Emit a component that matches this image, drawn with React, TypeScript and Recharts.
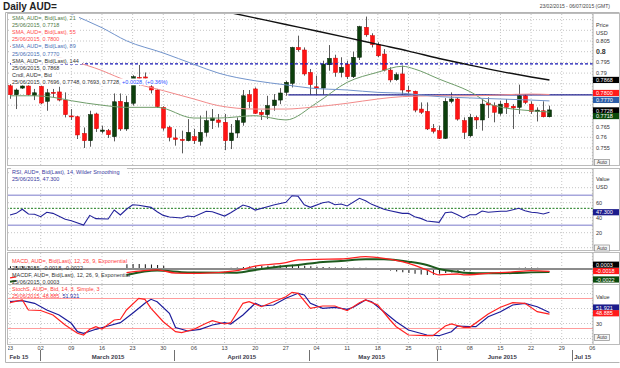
import React from "react";
import { Bar, CartesianGrid, ComposedChart, Line, ReferenceLine, XAxis, YAxis } from "recharts";

const FONT = '"Liberation Sans", Arial, sans-serif';

// trading-day index: 0 = Mon 23 Feb 2015 ... 88 = Thu 25 Jun 2015
const opens = [
  0.7841, 0.7799, 0.7830, 0.7840, 0.7796,
  0.7838, 0.7768, 0.7810, 0.7812, 0.7774,
  0.7700, 0.7696, 0.7618, 0.7584, 0.7709,
  0.7628, 0.7631, 0.7603, 0.7768, 0.7639,
  0.7759, 0.7880, 0.7882, 0.7836, 0.7821,
  0.7740, 0.7646, 0.7597, 0.7590, 0.7584,
  0.7603, 0.7581, 0.7623, 0.7678, 0.7681,
  0.7670, 0.7584, 0.7620, 0.7670, 0.7799,
  0.7826, 0.7717, 0.7706, 0.7748, 0.7774,
  0.7810, 0.7852, 0.8020, 0.8008, 0.7903,
  0.7836, 0.7830, 0.7939, 0.7970, 0.7903,
  0.7942, 0.7883, 0.7974, 0.8114, 0.8075,
  0.8033, 0.7989, 0.7914, 0.7869, 0.7896,
  0.7820, 0.7815, 0.7732, 0.7721, 0.7642,
  0.7631, 0.7595, 0.7768, 0.7779, 0.7678,
  0.7607, 0.7693, 0.7681, 0.7760, 0.7748,
  0.7712, 0.7759, 0.7745, 0.7740, 0.7794,
  0.7755, 0.7720, 0.7724, 0.7696,
];
const highs = [
  0.7848, 0.7828, 0.7845, 0.7846, 0.7826,
  0.7842, 0.7826, 0.7826, 0.7836, 0.7810,
  0.7732, 0.7700, 0.7646, 0.7724, 0.7715,
  0.7654, 0.7639, 0.7805, 0.7805, 0.7794,
  0.7890, 0.7938, 0.7903, 0.7864, 0.7826,
  0.7745, 0.7654, 0.7639, 0.7631, 0.7685,
  0.7639, 0.7701, 0.7724, 0.7732, 0.7709,
  0.7709, 0.7662, 0.7693, 0.7821, 0.7821,
  0.7833, 0.7727, 0.7794, 0.7802, 0.7830,
  0.7864, 0.8023, 0.8075, 0.8020, 0.7919,
  0.7888, 0.7958, 0.8031, 0.7986, 0.7974,
  0.7958, 0.8000, 0.8121, 0.8164, 0.8086,
  0.8044, 0.8012, 0.7927, 0.7903, 0.7935,
  0.7841, 0.7818, 0.7763, 0.7763, 0.7662,
  0.7654, 0.7783, 0.7810, 0.7787, 0.7693,
  0.7709, 0.7701, 0.7779, 0.7787, 0.7763,
  0.7771, 0.7779, 0.7755, 0.7846, 0.7802,
  0.7768, 0.7740, 0.7768, 0.7748,
];
const lows = [
  0.7780, 0.7732, 0.7826, 0.7795, 0.7774,
  0.7755, 0.7724, 0.7787, 0.7768, 0.7693,
  0.7681, 0.7592, 0.7550, 0.7556, 0.7625,
  0.7618, 0.7597, 0.7581, 0.7630, 0.7630,
  0.7748, 0.7841, 0.7857, 0.7805, 0.7737,
  0.7631, 0.7581, 0.7561, 0.7525, 0.7581,
  0.7569, 0.7561, 0.7603, 0.7639, 0.7646,
  0.7540, 0.7545, 0.7597, 0.7654, 0.7737,
  0.7709, 0.7681, 0.7685, 0.7724, 0.7755,
  0.7794, 0.7833, 0.8000, 0.7888, 0.7799,
  0.7799, 0.7799, 0.7911, 0.7883, 0.7880,
  0.7872, 0.7877, 0.7961, 0.8070, 0.8020,
  0.7974, 0.7908, 0.7857, 0.7864, 0.7799,
  0.7802, 0.7717, 0.7709, 0.7634, 0.7618,
  0.7592, 0.7592, 0.7759, 0.7678, 0.7592,
  0.7600, 0.7639, 0.7631, 0.7690, 0.7670,
  0.7701, 0.7709, 0.7639, 0.7709, 0.7755,
  0.7709, 0.7674, 0.7693, 0.7693,
];
const closes = [
  0.7799, 0.7821, 0.7840, 0.7799, 0.7808,
  0.7760, 0.7808, 0.7806, 0.7774, 0.7706,
  0.7696, 0.7611, 0.7584, 0.7706, 0.7640,
  0.7634, 0.7612, 0.7766, 0.7639, 0.7763,
  0.7883, 0.7876, 0.7876, 0.7821, 0.7743,
  0.7643, 0.7600, 0.7590, 0.7585, 0.7623,
  0.7584, 0.7623, 0.7678, 0.7690, 0.7670,
  0.7584, 0.7620, 0.7678, 0.7794, 0.7766,
  0.7712, 0.7706, 0.7748, 0.7774, 0.7807,
  0.7857, 0.8020, 0.8009, 0.7896, 0.7846,
  0.7830, 0.7942, 0.7969, 0.7903, 0.7927,
  0.7883, 0.7974, 0.8117, 0.8079, 0.8033,
  0.7981, 0.7914, 0.7868, 0.7893, 0.7821,
  0.7816, 0.7727, 0.7717, 0.7639, 0.7628,
  0.7595, 0.7768, 0.7779, 0.7685, 0.7623,
  0.7693, 0.7681, 0.7755, 0.7751, 0.7717,
  0.7755, 0.7740, 0.7737, 0.7794, 0.7763,
  0.7721, 0.7727, 0.7696, 0.7728,
];

// moving averages: [day index, value]
const sma21 = [[0, 0.7794], [4, 0.7794], [7, 0.7787], [10, 0.7771], [15, 0.775], [19, 0.774], [24, 0.774], [30, 0.769], [34, 0.769], [40, 0.7701], [45, 0.7681], [50, 0.776], [55, 0.7857], [60, 0.7904], [64, 0.7932], [66, 0.7919], [70, 0.7872], [75, 0.7814], [79, 0.7748], [85, 0.7724], [88, 0.7718]];
const sma55 = [[0, 0.8025], [10, 0.7958], [15, 0.7912], [19, 0.7864], [25, 0.7818], [30, 0.7779], [34, 0.7748], [40, 0.7732], [45, 0.7732], [49, 0.774], [55, 0.7759], [60, 0.7779], [64, 0.779], [70, 0.7794], [75, 0.7794], [85, 0.7802], [88, 0.78]];
const sma89 = [[7, 0.8215], [10, 0.8176], [15, 0.8112], [19, 0.8051], [25, 0.7994], [30, 0.7941], [34, 0.79], [40, 0.7864], [45, 0.7845], [49, 0.783], [55, 0.7821], [60, 0.781], [64, 0.7806], [70, 0.779], [75, 0.7784], [80, 0.7779], [85, 0.7774], [88, 0.777]];
const sma144 = [[33, 0.8199], [37, 0.8176], [45, 0.8127], [50, 0.8097], [55, 0.8066], [60, 0.8034], [65, 0.8003], [70, 0.7968], [75, 0.7937], [80, 0.7908], [85, 0.7882], [88, 0.7868]];

const dashedLevel = 0.7943;
const solidLevel = 0.7798;
const solidFrom = 45.4;

const rsiPts = [[0, 43.6], [1, 45.8], [2, 51.2], [3, 44.9], [4, 44.5], [5, 41.3], [6, 47.2], [7, 45.8], [9, 37.8], [10, 36], [12, 30.3], [13, 43.1], [14, 38.7], [16, 38.2], [17, 50.2], [18, 43.6], [19, 51.2], [20, 57.3], [21, 56.5], [23, 53.8], [24, 48], [25, 43.1], [26, 40.9], [28, 39.6], [29, 42.2], [30, 41.3], [32, 48.5], [33, 48], [35, 42.2], [36, 46.7], [38, 56.9], [39, 54.7], [40, 50.2], [42, 54.7], [43, 56.9], [45, 60.5], [46, 69.3], [47, 68.5], [48, 57.3], [49, 53.8], [51, 60], [52, 61.3], [53, 57.3], [54, 58.3], [55, 55.6], [57, 65.8], [58, 62.7], [59, 57.8], [61, 51.2], [62, 49.3], [64, 45.8], [65, 45.8], [66, 41.3], [67, 39.1], [68, 35.6], [70, 33.8], [71, 46.7], [72, 47.6], [73, 44], [74, 39.6], [75, 44], [76, 44], [77, 48.9], [78, 47.2], [80, 48.5], [81, 48.5], [83, 52.5], [84, 49.3], [85, 47.2], [86, 46.7], [87, 44.9], [88, 47.3]];

const macdEarly = [[0, -0.0066], [1, -0.0058]];
const macdPts = [[19, -0.0027], [24, -0.0007], [27, -0.003], [31, -0.0032], [37, -0.0012], [40, 0.0022], [45, 0.0047], [47, 0.0067], [50, 0.0072], [54, 0.0074], [58, 0.0091], [61, 0.0079], [65, 0.0042], [68, -0.0007], [70, -0.0044], [73, -0.0037], [74, -0.0044], [78, -0.0032], [82, -0.0022], [85, -0.0012], [88, -0.0018]];
const signalEarly = [[0, -0.0094], [1, -0.0088]];
const signalPts = [[19, -0.0044], [24, -0.0012], [29, -0.0025], [37, -0.0027], [40, -0.0007], [45, 0.0022], [47, 0.003], [50, 0.0047], [54, 0.0059], [58, 0.0072], [61, 0.0072], [65, 0.0054], [68, 0.003], [70, 0], [73, -0.002], [74, -0.0027], [78, -0.0032], [82, -0.003], [85, -0.0025], [88, -0.0022]];
const macdHist = [
  0.002, 0.0022, 0.0022, 0.002, 0.0018,
  null, null, null, null, null, null, null, null, null, null, null, null, null, null,
  0.0035, 0.0037, 0.0037, 0.0035, 0.0033, 0.003, 0.0025,
  -0.0002, -0.0003, -0.0004, -0.0004, -0.0003, -0.0002, -0.0001, 0.0002, 0.0005, 0.0008,
  0.001, 0.0012, 0.0015, 0.0018, 0.002, 0.0022, 0.0024, 0.0026,
  0.0028, 0.003, 0.0032, 0.003,
  0.0025, 0.002, 0.0016, 0.0014, 0.0013, 0.0012, 0.0012, 0.0011, 0.001, 0.001, 0.0009, 0.0007, 0.0004,
  -0.0005, -0.0012, -0.0018, -0.0024, -0.003, -0.0036, -0.004, -0.0044, -0.0042,
  -0.0036, -0.003, -0.0025, -0.002, -0.0016, -0.0012, -0.0008,
  -0.0004, -0.0002, 0.0001, 0.0003,
  0.0006, 0.0008, 0.001, 0.0012, 0.0011, 0.0009, 0.0006, 0.0004,
];

const stochK = [[0, 71.6], [2, 77], [3, 57], [5, 56], [7, 47], [9, 27], [11, 10.4], [12, 7], [13, 18.4], [14, 23.6], [15, 19], [17, 37], [18, 38.4], [19, 57], [21, 80.4], [22, 78.4], [23, 60.4], [25, 33.6], [27, 13.6], [28, 11.6], [30, 18.4], [32, 30.4], [33, 35.6], [35, 29], [36, 31.6], [38, 70.4], [39, 73.6], [41, 63.6], [43, 73.6], [45, 83.6], [46, 92.4], [47, 90.4], [49, 60.4], [51, 65], [53, 65], [55, 55.6], [57, 71.6], [58, 77], [60, 67], [62, 37], [63, 23.6], [65, 7], [68, 5.6], [69, 5.6], [71, 25], [72, 29], [74, 22.4], [75, 22.4], [78, 49], [80, 62.4], [82, 71.6], [84, 70.4], [86, 53.6], [88, 48.9]];
const stochD = [[0, 73.6], [2, 75.6], [4, 70.4], [6, 57], [8, 47], [10, 30.4], [11, 13.6], [12, 10.4], [14, 18.4], [16, 25], [18, 31.6], [20, 50.4], [22, 70.4], [23, 78.4], [24, 73.6], [26, 50.4], [27, 22], [29, 15], [31, 18.4], [33, 27], [35, 31.6], [36, 29], [38, 47], [40, 70.4], [41, 65], [43, 67], [45, 80.4], [47, 90.4], [48, 87], [49, 70.4], [51, 60.4], [53, 62.4], [55, 58.4], [56, 62.4], [58, 77], [59, 73.6], [61, 53.6], [63, 33.6], [65, 17], [68, 7], [70, 5.6], [72, 13.6], [73, 25], [75, 23.6], [76, 23.6], [78, 43.6], [80, 53.6], [82, 67], [84, 70.4], [86, 63.6], [88, 51.9]];

const weekTicks = [0, 5, 10, 15, 20, 25, 30, 35, 40, 45, 50, 55, 60, 65, 70, 75, 80, 85, 90, 95];
const dayLabels = ["23", "02", "09", "16", "23", "30", "06", "13", "20", "27", "04", "11", "18", "25", "01", "08", "15", "22", "29", "06"];
const monthPos = [-0.1, 16, 37.8, 59, 80.3, 94.8];
const monthText = ["Feb 15", "March 2015", "April 2015", "May 2015", "June 2015", "Jul 15"];
const monthBounds = [4.9, 26.75, 48.8, 69.7, 91.7];

const priceTicks = [0.755, 0.76, 0.765, 0.79, 0.795, 0.8, 0.805];
const priceGrid = [0.75, 0.755, 0.76, 0.765, 0.77, 0.775, 0.78, 0.785, 0.79, 0.795, 0.8, 0.805, 0.81, 0.815];
const rsiTicks = [20, 40, 60];
const rsiGrid = [0, 20, 40, 60, 80, 100];
const stochTicks = [30];
const stochGrid = [0, 30, 60, 90];

type Badge = { v: number; text: string; bg: string; dy: number };
const priceBadges: Badge[] = [
  { v: 0.7868, text: "0.7868", bg: "#000", dy: 0 },
  { v: 0.78, text: "0.7800", bg: "#ff1a1a", dy: -1.5 },
  { v: 0.777, text: "0.7770", bg: "#2c5ea8", dy: -1 },
  { v: 0.7728, text: "0.7728", bg: "#000", dy: 0.5 },
  { v: 0.7718, text: "0.7718", bg: "#0b4a0b", dy: 4 },
];
const rsiBadges: Badge[] = [{ v: 47.3, text: "47.300", bg: "#1c1c8c", dy: 0 }];
const macdBadges: Badge[] = [
  { v: 0.0003, text: "0.0003", bg: "#000", dy: -3.9 },
  { v: -0.0018, text: "-0.0018", bg: "#ff1a1a", dy: -0.4 },
  { v: -0.0022, text: "-0.0022", bg: "#0b4a0b", dy: 7.5 },
];
const stochBadges: Badge[] = [
  { v: 51.921, text: "51.921", bg: "#1c1c8c", dy: -5 },
  { v: 48.885, text: "48.885", bg: "#ff1a1a", dy: -0.8 },
];

const X_DOMAIN: [number, number] = [-0.33, 95.1];
const CHART_LEFT = 8;
const CHART_W = 612;
const AXIS_W = 27;
// same linear mapping the charts use for their x axis (used only for axis decorations)
const xPix = (v: number) => CHART_LEFT + ((v - X_DOMAIN[0]) / (X_DOMAIN[1] - X_DOMAIN[0])) * (CHART_W - AXIS_W);

function put(rows: any[], key: string, pts: number[][]) {
  for (const [i, v] of pts) rows[i][key] = v;
}

const priceRows: any[] = opens.map((o, i) => ({ i, o, h: highs[i], l: lows[i], c: closes[i], range: [lows[i], highs[i]] }));
put(priceRows, "s21", sma21);
put(priceRows, "s55", sma55);
put(priceRows, "s89", sma89);
put(priceRows, "s144", sma144);

const rsiRows: any[] = opens.map((_, i) => ({ i }));
put(rsiRows, "rsi", rsiPts);

const macdRows: any[] = opens.map((_, i) => ({ i, hist: macdHist[i] }));
put(macdRows, "macdA", macdEarly);
put(macdRows, "macd", macdPts);
put(macdRows, "sigA", signalEarly);
put(macdRows, "sig", signalPts);

const stochRows: any[] = opens.map((_, i) => ({ i }));
put(stochRows, "k", stochK);
put(stochRows, "d", stochD);

function Candle(props: any) {
  const { x, y, width, height, payload } = props;
  const { o, h, l, c } = payload;
  const top = Math.min(y, y + height);
  const hh = Math.abs(height);
  const span = h - l || 1e-9;
  const py = (p: number) => top + ((h - p) / span) * hh;
  const cx = Math.round(x + width / 2) + 0.5;
  const up = c >= o;
  const b0 = py(Math.max(o, c));
  const b1 = py(Math.min(o, c));
  return (
    <g>
      <line x1={cx} x2={cx} y1={top} y2={top + hh} stroke="#5a5a5a" strokeWidth={1} />
      <rect
        x={cx - 2}
        y={b0}
        width={4}
        height={Math.max(1, b1 - b0)}
        fill={up ? "#0c3f0c" : "#ff1414"}
        stroke={up ? "#041f04" : "#d80000"}
        strokeWidth={0.5}
      />
    </g>
  );
}

function makeTick(badges: Badge[]) {
  return function Tick(props: any) {
    const { x, y, payload } = props;
    const v = payload.value;
    const b = badges.find((d) => d.v === v);
    if (b) {
      return (
        <g>
          <rect x={x - 3} y={y + b.dy - 3.1} width={27} height={6.2} fill={b.bg} />
          <text x={x} y={y + b.dy + 0.2} dominantBaseline="central" fontSize={5.5} fill="#fff" fontFamily={FONT}>
            {b.text}
          </text>
        </g>
      );
    }
    const big = v === 0.8;
    return (
      <text
        x={x}
        y={y}
        dominantBaseline="central"
        fontSize={big ? 7 : 5.5}
        fontWeight={big ? "bold" : "normal"}
        fill="#333"
        fontFamily={FONT}
      >
        {String(v)}
      </text>
    );
  };
}
const PriceTick = makeTick(priceBadges);
const RsiTick = makeTick(rsiBadges);
const MacdTick = makeTick(macdBadges);
const StochTick = makeTick(stochBadges);

// one bottom axis carries day numbers and month names
function TimeTick(props: any) {
  const { x, y, payload } = props;
  const v = payload.value;
  const w = weekTicks.indexOf(v);
  if (w >= 0) {
    return (
      <text x={x} y={y + 3.5} textAnchor="middle" dominantBaseline="central" fontSize={5.5} fill="#444" fontFamily={FONT}>
        {dayLabels[w]}
      </text>
    );
  }
  const k = monthPos.indexOf(v);
  if (k < 0) return <g />;
  const anchor = k === 0 ? "start" : k === monthPos.length - 1 ? "end" : "middle";
  return (
    <text x={x} y={y + 13} textAnchor={anchor} dominantBaseline="central" fontSize={6} fontWeight="bold" fill="#3a3a4a" fontFamily={FONT}>
      {monthText[k]}
    </text>
  );
}

const gridProps = {
  stroke: "#c6c6c6",
  strokeDasharray: "1 2",
  verticalValues: weekTicks,
};

function textWidth(s: string, size: number) {
  let w = 0;
  for (const ch of s) {
    if (/[0-9]/.test(ch)) w += 0.556;
    else if (/[A-Z]/.test(ch)) w += 0.68;
    else if (/[a-z]/.test(ch)) w += 0.5;
    else if (/[=+%]/.test(ch)) w += 0.62;
    else w += 0.29;
  }
  return w * size;
}

type Row = { t: string; c: string; extra?: string; ec?: string };
const mainLegend: Row[] = [
  { t: "SMA, AUD=, Bid(Last), 21", c: "#4f7a45" },
  { t: "25/06/2015, 0.7718", c: "#4f7a45" },
  { t: "SMA, AUD=, Bid(Last), 55", c: "#ff4a4a" },
  { t: "25/06/2015, 0.7800", c: "#ff4a4a" },
  { t: "SMA, AUD=, Bid(Last), 89", c: "#4a6fb5" },
  { t: "25/06/2015, 0.7770", c: "#4a6fb5" },
  { t: "SMA, AUD=, Bid(Last), 144", c: "#333" },
  { t: "25/06/2015, 0.7868", c: "#333" },
  { t: "Cndl, AUD=, Bid", c: "#333" },
  { t: "25/06/2015, 0.7696, 0.7748, 0.7693, 0.7728, ", c: "#333", extra: "+0.0028, (+0.36%)", ec: "#2a4cff" },
];
const rsiLegend: Row[] = [
  { t: "RSI, AUD=, Bid(Last), 14, Wilder Smoothing", c: "#3a3aa0" },
  { t: "25/06/2015, 47.300", c: "#3a3aa0" },
];
const macdLegend: Row[] = [
  { t: "MACD, AUD=, Bid(Last), 12, 26, 9, Exponential", c: "#ff3a3a" },
  { t: "25/06/2015, -0.0018, -0.0022", c: "#333" },
  { t: "MACDF, AUD=, Bid(Last), 12, 26, 9, Exponential", c: "#333" },
  { t: "25/06/2015, 0.0003", c: "#333" },
];
const stochLegend: Row[] = [
  { t: "StochS, AUD=, Bid, 14, 3, Simple, 3", c: "#ff3a3a" },
  { t: "25/06/2015, 48.885, ", c: "#ff3a3a", extra: "51.921", ec: "#2a2aa0" },
];

function Legend({ rows, x, y0, step, bg }: { rows: Row[]; x: number; y0: number; step: number; bg: boolean }) {
  const size = 5.5;
  return (
    <g>
      {rows.map((r, k) => {
        const y = y0 + k * step;
        const w = textWidth(r.t + (r.extra || ""), size);
        return (
          <g key={k}>
            {bg && <rect x={x - 1} y={y - 3.4} width={w + 2} height={6.8} fill="#fff" />}
            <text x={x} y={y} dominantBaseline="central" fontSize={size} fill={r.c} fontFamily={FONT}>
              {r.t}
              {r.extra && <tspan fill={r.ec}>{r.extra}</tspan>}
            </text>
          </g>
        );
      })}
    </g>
  );
}

function AutoBox({ y }: { y: number }) {
  return (
    <g>
      <rect x={594.5} y={y} width={15} height={6} fill="#f6f6f6" stroke="#8a8a8a" strokeWidth={0.7} />
      <text x={602} y={y + 3.2} textAnchor="middle" dominantBaseline="central" fontSize={4.8} fill="#333" fontFamily={FONT}>
        Auto
      </text>
    </g>
  );
}

function Overlay() {
  const side = { fontSize: 5.5, fill: "#333", fontFamily: FONT } as const;
  return (
    <svg width={620} height={368} style={{ position: "absolute", left: 0, top: 0, pointerEvents: "none" }}>
      <text x={3} y={10} fontSize={10} fontWeight="bold" fill="#222" fontFamily={FONT}>
        Daily AUD=
      </text>
      <text x={610} y={7.5} textAnchor="end" fontSize={5} fill="#444" fontFamily={FONT}>
        23/02/2015 - 06/07/2015 (GMT)
      </text>
      <path d="M5.5 12.5 H619.5 M5.5 12.5 V362.5 H619.5" stroke="#b4b4b4" strokeWidth={1} fill="none" />
      <rect x={7.5} y={13.5} width={612} height={152} fill="none" stroke="#bcbcbc" />
      <rect x={7.5} y={168.5} width={612} height={82} fill="none" stroke="#bcbcbc" />
      <rect x={7.5} y={252.5} width={612} height={32} fill="none" stroke="#bcbcbc" />
      <rect x={7.5} y={284.5} width={612} height={60} fill="none" stroke="#bcbcbc" />

      {/* month separators in the time-axis band */}
      {monthBounds.map((b) => (
        <rect key={b} x={Math.round(xPix(b))} y={350} width={1} height={11} fill="#707070" />
      ))}

      <Legend rows={mainLegend} x={12} y0={18} step={7.1} bg />
      <Legend rows={rsiLegend} x={12} y0={171.5} step={7.2} bg />
      <Legend rows={macdLegend} x={12} y0={260.7} step={7} bg={false} />
      <Legend rows={stochLegend} x={12} y0={289.3} step={6.8} bg={false} />

      <text x={596} y={24.7} dominantBaseline="central" {...side}>Price</text>
      <text x={596} y={32.5} dominantBaseline="central" {...side}>USD</text>
      <text x={596} y={179} dominantBaseline="central" {...side}>Value</text>
      <text x={596} y={186.5} dominantBaseline="central" {...side}>USD</text>
      <text x={596} y={296.7} dominantBaseline="central" {...side}>Value</text>
      <AutoBox y={159.5} />
      <AutoBox y={245} />
      <AutoBox y={334.5} />
    </svg>
  );
}

const lineBase = { isAnimationActive: false, dot: false, activeDot: false, connectNulls: true } as const;

export default function App() {
  return (
    <div style={{ position: "absolute", left: 0, top: 0, width: 620, height: 368, background: "#fff", overflow: "hidden" }}>
      {/* price panel */}
      <div style={{ position: "absolute", left: CHART_LEFT, top: 14 }}>
        <ComposedChart width={CHART_W} height={151} data={priceRows} margin={{ top: 0, right: 0, bottom: 0, left: 0 }}>
          <CartesianGrid {...gridProps} horizontalValues={priceGrid} />
          <XAxis dataKey="i" type="number" domain={X_DOMAIN} allowDataOverflow ticks={weekTicks} hide />
          <YAxis
            orientation="right"
            width={AXIS_W}
            domain={[0.747056, 0.817617]}
            allowDataOverflow
            ticks={[...priceTicks, ...priceBadges.map((b) => b.v)]}
            interval={0}
            tick={PriceTick}
            tickLine={false}
            tickSize={0}
            tickMargin={3}
            axisLine={{ stroke: "#a8a8a8" }}
          />
          <ReferenceLine y={dashedLevel} stroke="#1414b4" strokeWidth={1.2} strokeDasharray="3 2" ifOverflow="hidden" />
          <ReferenceLine
            segment={[{ x: solidFrom, y: solidLevel }, { x: X_DOMAIN[1], y: solidLevel }]}
            stroke="#202090"
            strokeWidth={1.3}
          />
          <Bar dataKey="range" barSize={4} shape={Candle} isAnimationActive={false} />
          <Line dataKey="s21" type="monotone" stroke="#6f9d6a" strokeWidth={1} {...lineBase} />
          <Line dataKey="s55" type="monotone" stroke="#f28a8a" strokeWidth={1} {...lineBase} />
          <Line dataKey="s89" type="monotone" stroke="#7294cc" strokeWidth={1} {...lineBase} />
          <Line dataKey="s144" type="monotone" stroke="#111" strokeWidth={1.4} {...lineBase} />
        </ComposedChart>
      </div>

      {/* RSI panel */}
      <div style={{ position: "absolute", left: CHART_LEFT, top: 169 }}>
        <ComposedChart width={CHART_W} height={81} data={rsiRows} margin={{ top: 0, right: 0, bottom: 0, left: 0 }}>
          <CartesianGrid {...gridProps} horizontalValues={rsiGrid} />
          <XAxis dataKey="i" type="number" domain={X_DOMAIN} allowDataOverflow ticks={weekTicks} hide />
          <YAxis
            orientation="right"
            width={AXIS_W}
            domain={[-3.07, 104.93]}
            allowDataOverflow
            ticks={[...rsiTicks, ...rsiBadges.map((b) => b.v)]}
            interval={0}
            tick={RsiTick}
            tickLine={false}
            tickSize={0}
            tickMargin={3}
            axisLine={{ stroke: "#a8a8a8" }}
          />
          <ReferenceLine y={70} stroke="#a6a6dc" strokeWidth={1.4} />
          <ReferenceLine y={30} stroke="#a6a6dc" strokeWidth={1.4} />
          <ReferenceLine y={52.5} stroke="#1a7a1a" strokeWidth={1} strokeDasharray="2 1.5" />
          <Line dataKey="rsi" type="linear" stroke="#22229a" strokeWidth={1.1} {...lineBase} />
        </ComposedChart>
      </div>

      {/* MACD panel */}
      <div style={{ position: "absolute", left: CHART_LEFT, top: 253 }}>
        <ComposedChart width={CHART_W} height={31} data={macdRows} margin={{ top: 0, right: 0, bottom: 0, left: 0 }}>
          <CartesianGrid {...gridProps} horizontal={false} />
          <XAxis dataKey="i" type="number" domain={X_DOMAIN} allowDataOverflow ticks={weekTicks} hide />
          <YAxis
            orientation="right"
            width={AXIS_W}
            domain={[-0.011111, 0.011852]}
            allowDataOverflow
            ticks={macdBadges.map((b) => b.v)}
            interval={0}
            tick={MacdTick}
            tickLine={false}
            tickSize={0}
            tickMargin={3}
            axisLine={{ stroke: "#a8a8a8" }}
          />
          <ReferenceLine y={0} stroke="#8c8c8c" strokeWidth={2} />
          <Bar dataKey="hist" barSize={1} fill="#111" isAnimationActive={false} />
          <Line dataKey="sigA" type="monotone" stroke="#1d5a1d" strokeWidth={2} {...lineBase} />
          <Line dataKey="sig" type="monotone" stroke="#1d5a1d" strokeWidth={2} {...lineBase} />
          <Line dataKey="macdA" type="monotone" stroke="#ff2020" strokeWidth={1.3} {...lineBase} />
          <Line dataKey="macd" type="monotone" stroke="#ff2020" strokeWidth={1.3} {...lineBase} />
        </ComposedChart>
      </div>

      {/* Stochastic panel with the time axis */}
      <div style={{ position: "absolute", left: CHART_LEFT, top: 285 }}>
        <ComposedChart width={CHART_W} height={80} data={stochRows} margin={{ top: 0, right: 0, bottom: 0, left: 0 }}>
          <CartesianGrid {...gridProps} horizontalValues={stochGrid} />
          <XAxis
            dataKey="i"
            type="number"
            domain={X_DOMAIN}
            allowDataOverflow
            ticks={[...weekTicks, ...monthPos]}
            interval={0}
            height={21}
            tick={TimeTick}
            tickLine={false}
            tickSize={0}
            tickMargin={0}
            axisLine={false}
          />
          <YAxis
            orientation="right"
            width={AXIS_W}
            domain={[-11, 107]}
            allowDataOverflow
            ticks={[...stochTicks, ...stochBadges.map((b) => b.v)]}
            interval={0}
            tick={StochTick}
            tickLine={false}
            tickSize={0}
            tickMargin={3}
            axisLine={{ stroke: "#a8a8a8" }}
          />
          <ReferenceLine y={80} stroke="#ff9c9c" strokeWidth={1} />
          <ReferenceLine y={20} stroke="#ff9c9c" strokeWidth={1} />
          <Line dataKey="d" type="linear" stroke="#1c1c9a" strokeWidth={1.2} {...lineBase} />
          <Line dataKey="k" type="linear" stroke="#ff2020" strokeWidth={1.2} {...lineBase} />
        </ComposedChart>
      </div>

      <Overlay />
    </div>
  );
}
